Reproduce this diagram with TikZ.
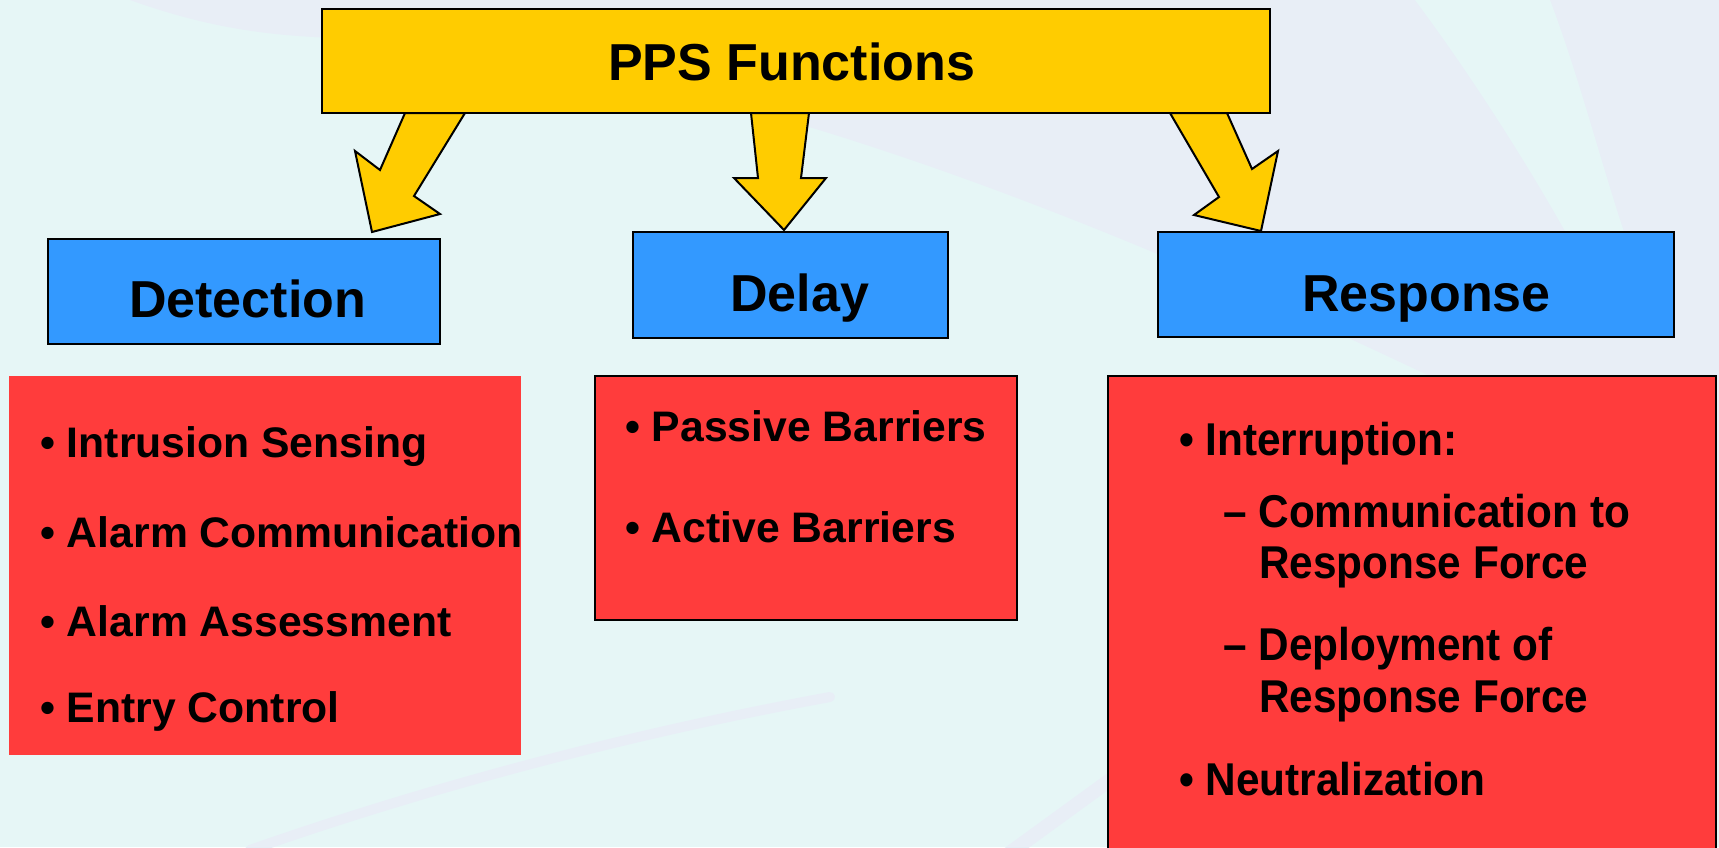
\documentclass[tikz,border=0pt]{standalone}
\usepackage{fontspec}
\setmainfont{Liberation Sans}
\newfontfamily\narrowsans[FakeStretch=0.92]{Liberation Sans}
\usetikzlibrary{calc}
\definecolor{bgc}{RGB}{230,246,246}
\definecolor{bgb}{RGB}{232,238,246}
\definecolor{ppsyellow}{RGB}{255,204,0}
\definecolor{boxblue}{RGB}{51,153,255}
\definecolor{boxred}{RGB}{255,60,60}
\begin{document}
\begin{tikzpicture}[x=1pt,y=-1pt,
  ybox/.style={draw=black, line width=2.5pt, fill=ppsyellow, anchor=north west, inner sep=0pt, outer sep=0pt},
  bbox/.style={draw=black, line width=2.5pt, fill=boxblue, anchor=north west, inner sep=0pt, outer sep=0pt},
  rbox/.style={fill=boxred, anchor=north west, inner sep=0pt, outer sep=0pt},
  rboxb/.style={rbox, draw=black, line width=2.5pt},
  titletext/.style={anchor=base west, inner sep=0pt, font=\fontsize{52}{60}\selectfont\bfseries},
  itemtext/.style={anchor=base west, inner sep=0pt, font=\fontsize{42.7}{50}\selectfont\bfseries},
  ritemtext/.style={anchor=base west, inner sep=0pt, font=\fontsize{46}{52}\selectfont\narrowsans\bfseries},
  blockarrow/.style={draw=black, line width=2pt, fill=ppsyellow, line join=miter},
  swoosh/.style={bgb, line cap=round}
]
\useasboundingbox (0,0) rectangle (1719,847);
\clip (0,0) rectangle (1719,847);
% background
\fill[bgc] (0,0) rectangle (1719,847);
\fill[bgb] (130,0) .. controls (200,25) and (260,36) .. (340,38)
  .. controls (700,60) and (1100,200) .. (1719,520) -- (1719,0) -- cycle;
\fill[bgc] (1415,0) -- (1550,0) .. controls (1580,80) and (1600,160) .. (1625,235)
  -- (1570,240) .. controls (1520,150) and (1460,60) .. (1415,0) -- cycle;
\draw[swoosh, line width=10pt] (250,850) .. controls (450,780) and (650,730) .. (830,697);
\draw[swoosh, line width=14pt] (1000,860) -- (1110,780);

% boxes
\node[ybox, minimum width=948pt, minimum height=104pt] (pps) at (322,9) {};
\node[bbox, minimum width=392pt, minimum height=105pt] (det) at (48,239) {};
\node[bbox, minimum width=315pt, minimum height=106pt] (del) at (633,232) {};
\node[bbox, minimum width=516pt, minimum height=105pt] (res) at (1158,232) {};

% block arrows (drawn from the PPS box to each function box)
\coordinate (lt) at ($(det.north west)+(324,-7)$);
\coordinate (mt) at ($(del.north west)+(151,-2)$);
\coordinate (rt) at ($(res.north west)+(103,-1)$);
\draw[blockarrow] ($(pps.south west)+(83,0)$) -- ($(lt)+(8,-62)$) -- ($(lt)+(-17,-81)$)
  -- (lt) -- ($(lt)+(68,-18)$) -- ($(lt)+(42,-36)$) -- ($(pps.south west)+(143,0)$) -- cycle;
\draw[blockarrow] ($(pps.south west)+(429,0)$) -- ($(mt)+(-26,-52)$) -- ($(mt)+(-50,-52)$)
  -- (mt) -- ($(mt)+(42,-52)$) -- ($(mt)+(17,-52)$) -- ($(pps.south west)+(487,0)$) -- cycle;
\draw[blockarrow] ($(pps.south west)+(848,0)$) -- ($(rt)+(-42,-34)$) -- ($(rt)+(-67,-16)$)
  -- (rt) -- ($(rt)+(17,-80)$) -- ($(rt)+(-9,-62)$) -- ($(pps.south west)+(905,0)$) -- cycle;
% redraw yellow box over the arrow roots
\node[ybox, minimum width=948pt, minimum height=104pt] (ppsfront) at (322,9) {};

% red boxes
\node[rbox, minimum width=512pt, minimum height=379pt] (detl) at (9,376) {};
\node[rboxb, minimum width=422pt, minimum height=244pt] (dell) at (595,376) {};
\node[rboxb, minimum width=608pt, minimum height=520pt] (resl) at (1108,376) {};

% titles
\node[titletext] (ppst) at (608,80) {PPS Functions};
\node[titletext] (dett) at (129,317) {Detection};
\node[titletext] (delt) at (730,311) {Delay};
\node[titletext] (rest) at (1302,311) {Response};

% detection items
\node[itemtext] (d1) at (40,457) {• Intrusion Sensing};
\node[itemtext] (d2) at (40,547) {• Alarm Communication};
\node[itemtext] (d3) at (40,636) {• Alarm Assessment};
\node[itemtext] (d4) at (40,722) {• Entry Control};

% delay items
\node[itemtext] (l1) at (625,441) {• Passive Barriers};
\node[itemtext] (l2) at (625,542) {• Active Barriers};

% response items
\node[ritemtext] (r1) at (1179,455) {• Interruption:};
\node[ritemtext] (r2) at (1223,527) {– Communication to};
\node[ritemtext] (r3) at (1259,578) {Response Force};
\node[ritemtext] (r4) at (1223,660) {– Deployment of};
\node[ritemtext] (r5) at (1259,712) {Response Force};
\node[ritemtext] (r6) at (1179,795) {• Neutralization};
\end{tikzpicture}
\end{document}
